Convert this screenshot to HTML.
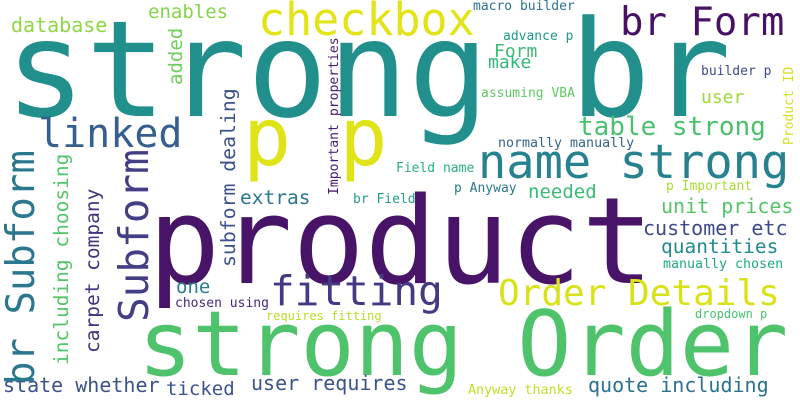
<!DOCTYPE html>
<html><head><meta charset="utf-8"><style>
html,body{margin:0;padding:0;background:#fff}
svg{display:block}
text{font-family:"DejaVu Sans Mono","Liberation Mono",monospace}
</style></head><body>
<svg id="cloud" width="800" height="400" viewBox="0 0 800 400" xmlns="http://www.w3.org/2000/svg">
<rect width="800" height="400" fill="#fff"/>
</svg>
<script>
const words = ["strong br","product","strong Order","p p","checkbox","br Form","linked","name strong","table strong","fitting","Order Details","database","enables","Form","make","macro builder","advance p","builder p","user","assuming VBA","normally manually","Field name","p Anyway","p Important","needed","br Field","extras","unit prices","customer etc","quantities","manually chosen","one","chosen using","requires fitting","dropdown p","state whether","ticked","user requires","quote including","Anyway thanks","br Subform","Subform","including choosing","carpet company","subform dealing","added","Important properties","Product ID"];
const sizes = [134,120,90,80,45,39,40,47,26,41,36,20,19,18,18,13,13,13,18,13,13.3,13,13,13,19,13,19.5,20,20,19.5,13.3,19,13,12,12,20,19,20,20,13.4,39,41,19.5,19.5,19.8,19,13.1,13];
const xs = [5,148,138,243,258,620,38,478,578,270,498,11,148,494,488,473,503,701,701,481,498,396,454,666,528,353,240,661,643,661,663,176,175,266,695,3,166,251,588,468,34,148,68,99,235,182,338,793];
const ys = [116,283,375,165,35,35,147,178,135,305,305,32,18,57,68,10,40,75,103,97,147,172,192,190,198,203,204,213,235,253,268,293,307,320,318,392,395,390,392,394,385,322,365,353,267,85,195,145];
const vertical = [0,0,0,0,0,0,0,0,0,0,0,0,0,0,0,0,0,0,0,0,0,0,0,0,0,0,0,0,0,0,0,0,0,0,0,0,0,0,0,0,1,1,1,1,1,1,1,1];
const colors = ["#21908d","#481467","#4ec36b","#dfe318","#e2e418","#471164","#355f8d","#26828e","#4ac16d","#443983","#d8e219","#8fd744","#86d549","#3dbc74","#35b779","#2d718e","#1f988b","#3e4a89","#a0da39","#5ec962","#33638d","#29af7f","#2a788e","#a8db34","#3bbb75","#1f9e89","#2a788e","#54c568","#3e4989","#238a8d","#22a884","#287c8e","#482878","#b5de2b","#4ac16d","#3b528b","#3b528b","#3b528b","#2c728e","#c2df23","#2a788e","#433e85","#52c569","#46327e","#3b528b","#6ece58","#481f70","#d2e21b"];
const svg = document.getElementById('cloud');
for (let i = 0; i < words.length; i++) {
  const t = document.createElementNS('http://www.w3.org/2000/svg', 'text');
  
  
  t.setAttribute('font-size', sizes[i]);
  t.setAttribute('fill', colors[i]);
  if (vertical[i]) {
    t.setAttribute('transform', 'translate(' + xs[i] + ',' + ys[i] + ') rotate(-90)');
    t.setAttribute('x', 0);
    t.setAttribute('y', 0);
  } else {
    t.setAttribute('x', xs[i]);
    t.setAttribute('y', ys[i]);
  }
  t.textContent = words[i];
  svg.appendChild(t);
}
</script>
</body></html>
